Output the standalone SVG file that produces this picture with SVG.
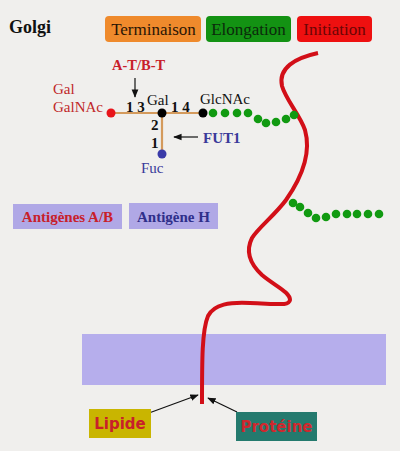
<svg xmlns="http://www.w3.org/2000/svg" width="400" height="451" viewBox="0 0 400 451">
<defs>
<style>
.serif{font-family:"Liberation Serif","Times New Roman",serif}
.b{font-weight:bold}
.lbl{font-size:15px}
.tag{font-size:17px;text-anchor:middle}
.ag{font-size:15px;font-weight:bold;text-anchor:middle}
.comic{font-family:"DejaVu Sans",sans-serif;font-weight:bold;font-size:15px;text-anchor:middle}
.link{stroke:#d49a5c;stroke-width:2.2;fill:none}
.gdot{fill:#119a11}
.arr{stroke:#111;stroke-width:1.2;fill:none;marker-end:url(#ah)}
</style>
<marker id="ah" viewBox="0 0 10 10" refX="9" refY="5" markerWidth="7" markerHeight="7" orient="auto-start-reverse">
<path d="M0,1 L10,5 L0,9 z" fill="#111"/>
</marker>
</defs>
<rect width="400" height="451" fill="#f0efed"/>

<text class="serif b" x="9" y="33" font-size="18" fill="#111">Golgi</text>

<g id="terminaison">
<rect x="105" y="16" width="96" height="26" rx="4" fill="#ef8a2c"/>
<text class="serif tag" x="153.5" y="35" fill="#2a1505">Terminaison</text>
</g>
<g id="elongation">
<rect x="206" y="16" width="85" height="26" rx="4" fill="#139213"/>
<text class="serif tag" x="248.5" y="35" fill="#0b2a0b">Elongation</text>
</g>
<g id="initiation">
<rect x="297" y="16" width="75" height="26" rx="4" fill="#ee1010"/>
<text class="serif tag" x="334.5" y="35" fill="#6a0505">Initiation</text>
</g>

<g id="membrane">
<rect x="82" y="334" width="304" height="51" fill="#b6aeec"/>
</g>

<g id="protein-chain">
<path d="M318,53 C295,58 278,68 282,86 C286,100 300,115 305,130 C312,155 300,180 286,200 C275,215 258,228 252,238 C246,250 248,262 262,275 C275,286 290,292 290,300 C289,306 280,304 250,303 C230,302 214,304 208,316 C202,330 202,360 202,404" stroke="#d20f18" stroke-width="4" fill="none" stroke-linecap="butt"/>
</g>

<g id="connectors">
<line class="link" x1="111" y1="113" x2="203" y2="113"/>
<line class="link" x1="162" y1="113" x2="162" y2="154"/>
<line class="arr" x1="135" y1="78" x2="135" y2="97"/>
<line class="arr" x1="198" y1="137" x2="174" y2="137"/>
<line class="arr" x1="149" y1="413" x2="198" y2="395"/>
<line class="arr" x1="237" y1="412" x2="208" y2="398"/>
</g>

<g id="sugar-nodes">
<circle cx="111" cy="113" r="4.5" fill="#e8141a"/>
<circle cx="162" cy="113" r="4.5" fill="#000"/>
<circle cx="203" cy="113" r="4.5" fill="#000"/>
<circle cx="162" cy="154" r="4.5" fill="#3a3aa8"/>
</g>

<g id="glycan-chain-1">
<circle class="gdot" cx="213" cy="113" r="4.3"/>
<circle class="gdot" cx="225" cy="113" r="4.3"/>
<circle class="gdot" cx="237" cy="113" r="4.3"/>
<circle class="gdot" cx="248" cy="113" r="4.3"/>
<circle class="gdot" cx="258" cy="119" r="4.3"/>
<circle class="gdot" cx="266" cy="123" r="4.3"/>
<circle class="gdot" cx="276" cy="122" r="4.3"/>
<circle class="gdot" cx="286" cy="119" r="4.3"/>
<circle class="gdot" cx="294" cy="115" r="4.3"/>
</g>
<g id="glycan-chain-2">
<circle class="gdot" cx="293" cy="203" r="4.3"/>
<circle class="gdot" cx="300" cy="207" r="4.3"/>
<circle class="gdot" cx="308" cy="213" r="4.3"/>
<circle class="gdot" cx="316" cy="218" r="4.3"/>
<circle class="gdot" cx="326" cy="217" r="4.3"/>
<circle class="gdot" cx="336" cy="214" r="4.3"/>
<circle class="gdot" cx="347" cy="214" r="4.3"/>
<circle class="gdot" cx="357" cy="214" r="4.3"/>
<circle class="gdot" cx="368" cy="214" r="4.3"/>
<circle class="gdot" cx="379" cy="214" r="4.3"/>
</g>

<g id="labels">
<text class="serif lbl" x="53" y="94" fill="#c0282a">Gal</text>
<text class="serif lbl" x="53" y="112" fill="#c0282a">GalNAc</text>
<text class="serif b" font-size="14.5" x="112" y="70" fill="#c8202a">A-T/B-T</text>
<text class="serif lbl b" x="126" y="112" fill="#111">1 3</text>
<text class="serif lbl" x="147" y="105" fill="#111">Gal</text>
<text class="serif lbl b" x="171" y="112" fill="#111">1 4</text>
<text class="serif lbl" x="200" y="104" fill="#111">GlcNAc</text>
<text class="serif lbl b" x="151" y="130" fill="#111">2</text>
<text class="serif lbl b" x="151" y="148" fill="#111">1</text>
<text class="serif lbl b" x="203" y="143" fill="#3a3a9a">FUT1</text>
<text class="serif lbl" x="141" y="173" fill="#3a3a9a">Fuc</text>
</g>

<g id="antigenes-ab">
<rect x="13" y="204" width="109" height="25" fill="#b0a8e6"/>
<text class="serif ag" x="67.5" y="222" fill="#c8202a">Antigènes A/B</text>
</g>
<g id="antigene-h">
<rect x="129" y="203" width="89" height="26" fill="#b0a8e6"/>
<text class="serif ag" x="173.5" y="222" fill="#2f2f8a">Antigène H</text>
</g>

<g id="lipide">
<rect x="89" y="409" width="62" height="29" fill="#c9b500"/>
<text class="comic" x="120" y="429" fill="#c8202a">Lipide</text>
</g>
<g id="proteine">
<rect x="236" y="412" width="81" height="29" fill="#247a6e"/>
<text class="comic" x="276.5" y="432" fill="#d0282e">Protéine</text>
</g>
</svg>
